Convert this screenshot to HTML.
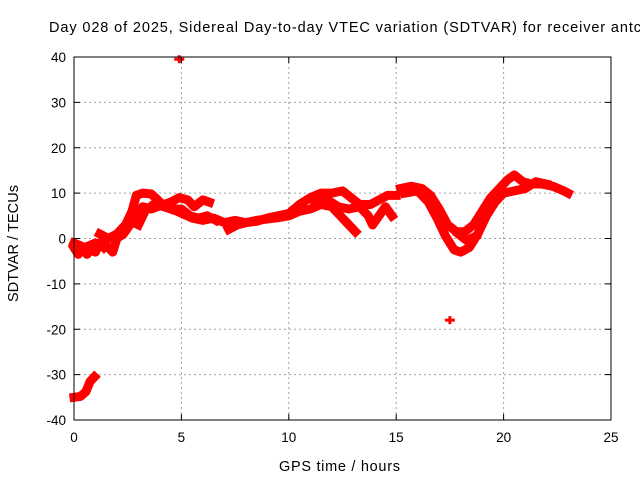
<!DOCTYPE html>
<html><head><meta charset="utf-8"><style>
body{margin:0;background:#fff;}
svg{display:block;font-family:"Liberation Sans",Arial,sans-serif;}
</style></head><body>
<svg id="chart" width="640" height="480" viewBox="0 0 640 480" xmlns="http://www.w3.org/2000/svg">
<rect width="640" height="480" fill="#fff"/>
<text x="49" y="32" font-size="14.5" textLength="592" lengthAdjust="spacing" fill="#000">Day 028 of 2025, Sidereal Day-to-day VTEC variation (SDTVAR) for receiver antc</text>
<g id="grid"></g>
<g id="series"></g>
<rect x="74" y="57" width="537" height="363" fill="none" stroke="#000" stroke-width="1"/>
<g id="ticks"></g>
<text x="279" y="471" font-size="14.5" textLength="121" lengthAdjust="spacing">GPS time / hours</text>
<text transform="translate(18,302) rotate(-90)" font-size="14.5" textLength="117" lengthAdjust="spacing">SDTVAR / TECUs</text>
</svg>
<script>
const xTicks=[0,5,10,15,20,25];
const yTicks=[-40,-30,-20,-10,0,10,20,30,40];
const trackA=[[0,-35],[0.3,-34.8],[0.55,-33.8],[0.75,-31.5],[0.95,-30.5]];
const trackB=[[0,-2],[0.2,-3.5],[0.4,-2],[0.6,-3.5],[0.8,-2.5],[1,-3],[1.2,-1],[1.4,-2]];
const trackC=[[0,-1],[0.5,-2],[1,-1],[1.5,-1.5],[1.8,-3],[2,0],[2.3,1],[2.6,3],[2.9,5],[3.2,7],[3.6,6.5],[4,7.2],[4.5,8],[4.9,9],[5.3,8.5],[5.6,7],[6,8.5],[6.3,8]];
const trackD=[[1.2,1],[1.6,0],[2,1],[2.4,3],[2.7,6],[2.9,9.5],[3.2,10],[3.6,9.8],[3.9,8.5],[4.2,7],[4.6,6.5],[5,6.5],[5.4,5],[5.8,4.5],[6.2,5],[6.6,4]];
const trackE=[[3,3],[3.3,6],[3.7,7.5],[4.2,7],[4.8,6],[5.5,4.5],[6,4],[6.5,4.5],[7,3.5],[7.5,4],[8,3.5],[8.5,4],[9,4.3],[9.5,4.6],[10,5],[10.5,6],[11,6.5],[11.5,7.5],[12,7],[12.4,5],[12.8,3],[13.1,1.5]];
const trackF=[[7.2,2],[7.6,3],[8,3.5],[8.5,3.8],[9,4.5],[9.5,5],[10,5.5],[10.5,7.5],[11,9],[11.5,10],[12,10],[12.5,10.5],[12.9,9],[13.3,7.5],[13.8,7.5],[14.2,8.5],[14.6,9.5],[15,9.5]];
const trackG=[[11.2,8],[11.8,8.5],[12.3,7],[12.8,6.5],[13.3,7],[13.7,5],[13.9,3],[14.2,5],[14.5,7],[14.8,5]];
const trackH=[[15.2,11],[15.7,11.5],[16.2,11],[16.6,9.5],[17,6.5],[17.4,3],[17.8,1.5],[18.2,1.5],[18.6,3],[19,6],[19.4,9],[19.8,11],[20.2,13],[20.5,14],[20.9,12.5],[21.3,12],[21.8,12],[22.3,11.5],[22.8,10.5],[23,10]];
const trackI=[[15.4,10],[16,10.5],[16.5,8],[16.9,4.5],[17.3,0.5],[17.7,-2.5],[18,-3],[18.4,-2],[18.8,1],[19.2,5],[19.6,8],[20,10],[20.5,10.5],[21,11],[21.5,12.5],[22,12]];
const trackJ=[[17.9,1],[18.3,-0.5],[18.7,0.5]];
const outliers=[[4.9,39.5],[17.5,-18]];
const tracks=[trackA,trackB,trackC,trackD,trackE,trackF,trackG,trackH,trackI,trackJ];

const NS="http://www.w3.org/2000/svg";
const X0=74,X1=611,Y0=420,Y1=57;
function sx(v){return X0+(v-0)/(25-0)*(X1-X0);}
function sy(v){return Y0-(v+40)/(80)*(Y0-Y1);}
function mk(tag,attrs,parent){const e=document.createElementNS(NS,tag);for(const k in attrs)e.setAttribute(k,attrs[k]);parent.appendChild(e);return e;}
const grid=document.getElementById('grid'),ticks=document.getElementById('ticks'),ser=document.getElementById('series');
xTicks.forEach(t=>{
  const x=sx(t);
  if(t>0&&t<25){const g=mk('line',{x1:x,x2:x,y1:Y1,y2:Y0,stroke:'#a0a0a0','stroke-dasharray':'2,3'},grid);
  
  }
  mk('line',{x1:x,x2:x,y1:Y0,y2:Y0-6,stroke:'#000'},ticks);
  mk('line',{x1:x,x2:x,y1:Y1,y2:Y1+6,stroke:'#000'},ticks);
  const l=mk('text',{x:x,y:Y0+22,'font-size':13.5,'text-anchor':'middle'},ticks);l.textContent=t;
  
  
});
yTicks.forEach(t=>{
  const y=sy(t);
  if(t>-40&&t<40){const g=mk('line',{x1:X0,x2:X1,y1:y,y2:y,stroke:'#a0a0a0','stroke-dasharray':'2,3'},grid);
  
  }
  mk('line',{x1:X0,x2:X0+6,y1:y,y2:y,stroke:'#000'},ticks);
  mk('line',{x1:X1,x2:X1-6,y1:y,y2:y,stroke:'#000'},ticks);
  const l=mk('text',{x:X0-8,y:y+5,'font-size':13.5,'text-anchor':'end'},ticks);l.textContent=t;
  
  
});
tracks.forEach(tr=>{
  const p=mk('polyline',{points:tr.map(d=>sx(d[0])+','+sy(d[1])).join(' '),fill:'none',stroke:'#ff0000','stroke-width':9,'stroke-linejoin':'round','stroke-linecap':'square'},ser);
  
  
});
outliers.forEach(d=>{
  const x=sx(d[0]),y=sy(d[1]);
  const p=mk('path',{d:`M${x-5},${y}H${x+5}M${x},${y-4}V${y+4}`,stroke:'#ff0000','stroke-width':3},ser);
  
  
});
</script>
</body></html>
